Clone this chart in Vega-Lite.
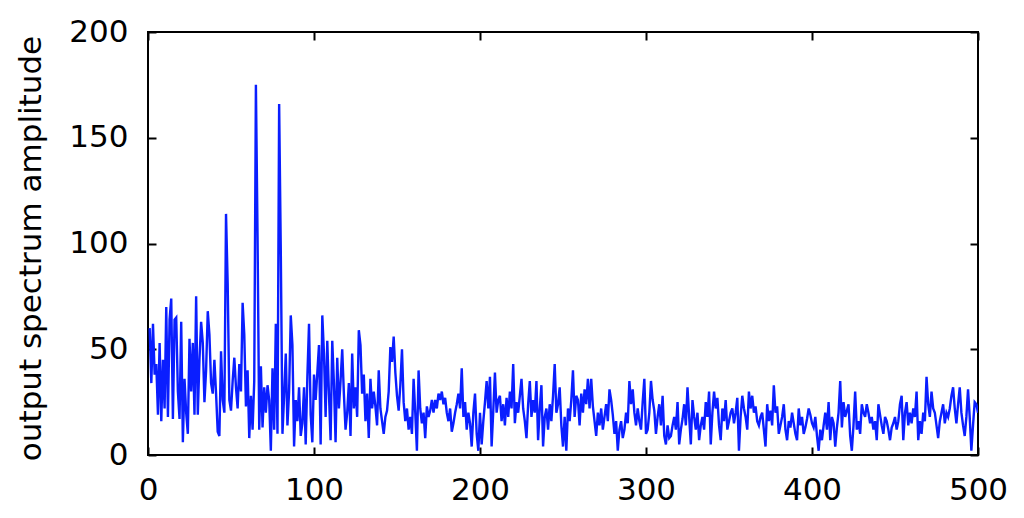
{
  "$schema": "https://vega.github.io/schema/vega-lite/v6.json",
  "autosize": {"type": "none"},
  "width": 830,
  "height": 423,
  "padding": {"left": 148, "top": 32, "right": 46, "bottom": 63},
  "background": "white",
  "data": {"values": [
{"n":1,"amp":60},{"n":2,"amp":34},{"n":3,"amp":62},{"n":4,"amp":38},{"n":5,"amp":43},{"n":6,"amp":19},{"n":7,"amp":53},{"n":8,"amp":16},{"n":9,"amp":45},{"n":10,"amp":22},
{"n":11,"amp":70},{"n":12,"amp":18},{"n":13,"amp":64},{"n":14,"amp":74},{"n":15,"amp":17},{"n":16,"amp":64},{"n":17,"amp":65},{"n":18,"amp":30},{"n":19,"amp":17},{"n":20,"amp":63},
{"n":21,"amp":6},{"n":22,"amp":36},{"n":23,"amp":20},{"n":24,"amp":10},{"n":25,"amp":55},{"n":26,"amp":30},{"n":27,"amp":53},{"n":28,"amp":19},{"n":29,"amp":75},{"n":30,"amp":19},
{"n":31,"amp":45},{"n":32,"amp":63},{"n":33,"amp":53},{"n":34,"amp":25},{"n":35,"amp":40},{"n":36,"amp":68},{"n":37,"amp":57},{"n":38,"amp":34},{"n":39,"amp":29},{"n":40,"amp":45},
{"n":41,"amp":29},{"n":42,"amp":11},{"n":43,"amp":9},{"n":44,"amp":49},{"n":45,"amp":26},{"n":46,"amp":20},{"n":47,"amp":114},{"n":48,"amp":81},{"n":49,"amp":26},{"n":50,"amp":21},
{"n":51,"amp":35},{"n":52,"amp":46},{"n":53,"amp":32},{"n":54,"amp":22},{"n":55,"amp":43},{"n":56,"amp":30},{"n":57,"amp":72},{"n":58,"amp":57},{"n":59,"amp":23},{"n":60,"amp":40},
{"n":61,"amp":8},{"n":62,"amp":28},{"n":63,"amp":12},{"n":64,"amp":35},{"n":65,"amp":175},{"n":66,"amp":103},{"n":67,"amp":12},{"n":68,"amp":42},{"n":69,"amp":13},{"n":70,"amp":32},
{"n":71,"amp":20},{"n":72,"amp":33},{"n":73,"amp":26},{"n":74,"amp":2},{"n":75,"amp":41},{"n":76,"amp":12},{"n":77,"amp":62},{"n":78,"amp":10},{"n":79,"amp":166},{"n":80,"amp":96},
{"n":81,"amp":10},{"n":82,"amp":28},{"n":83,"amp":48},{"n":84,"amp":14},{"n":85,"amp":30},{"n":86,"amp":66},{"n":87,"amp":52},{"n":88,"amp":4},{"n":89,"amp":26},{"n":90,"amp":16},
{"n":91,"amp":32},{"n":92,"amp":9},{"n":93,"amp":15},{"n":94,"amp":32},{"n":95,"amp":5},{"n":96,"amp":37},{"n":97,"amp":62},{"n":98,"amp":19},{"n":99,"amp":6},{"n":100,"amp":38},
{"n":101,"amp":26},{"n":102,"amp":39},{"n":103,"amp":52},{"n":104,"amp":5},{"n":105,"amp":66},{"n":106,"amp":48},{"n":107,"amp":18},{"n":108,"amp":54},{"n":109,"amp":29},{"n":110,"amp":7},
{"n":111,"amp":54},{"n":112,"amp":34},{"n":113,"amp":6},{"n":114,"amp":46},{"n":115,"amp":22},{"n":116,"amp":35},{"n":117,"amp":50},{"n":118,"amp":29},{"n":119,"amp":12},{"n":120,"amp":20},
{"n":121,"amp":34},{"n":122,"amp":9},{"n":123,"amp":48},{"n":124,"amp":22},{"n":125,"amp":32},{"n":126,"amp":18},{"n":127,"amp":59},{"n":128,"amp":52},{"n":129,"amp":29},{"n":130,"amp":38},
{"n":131,"amp":16},{"n":132,"amp":29},{"n":133,"amp":8},{"n":134,"amp":36},{"n":135,"amp":22},{"n":136,"amp":30},{"n":137,"amp":23},{"n":138,"amp":14},{"n":139,"amp":40},{"n":140,"amp":22},
{"n":141,"amp":16},{"n":142,"amp":10},{"n":143,"amp":18},{"n":144,"amp":21},{"n":145,"amp":30},{"n":146,"amp":51},{"n":147,"amp":44},{"n":148,"amp":56},{"n":149,"amp":39},{"n":150,"amp":28},
{"n":151,"amp":21},{"n":152,"amp":33},{"n":153,"amp":50},{"n":154,"amp":25},{"n":155,"amp":16},{"n":156,"amp":22},{"n":157,"amp":12},{"n":158,"amp":18},{"n":159,"amp":10},{"n":160,"amp":36},
{"n":161,"amp":20},{"n":162,"amp":2},{"n":163,"amp":40},{"n":164,"amp":22},{"n":165,"amp":15},{"n":166,"amp":20},{"n":167,"amp":8},{"n":168,"amp":23},{"n":169,"amp":18},{"n":170,"amp":21},
{"n":171,"amp":26},{"n":172,"amp":20},{"n":173,"amp":26},{"n":174,"amp":22},{"n":175,"amp":29},{"n":176,"amp":26},{"n":177,"amp":30},{"n":178,"amp":24},{"n":179,"amp":27},{"n":180,"amp":20},
{"n":181,"amp":16},{"n":182,"amp":22},{"n":183,"amp":11},{"n":184,"amp":15},{"n":185,"amp":20},{"n":186,"amp":24},{"n":187,"amp":29},{"n":188,"amp":22},{"n":189,"amp":41},{"n":190,"amp":18},
{"n":191,"amp":25},{"n":192,"amp":12},{"n":193,"amp":20},{"n":194,"amp":15},{"n":195,"amp":4},{"n":196,"amp":20},{"n":197,"amp":29},{"n":198,"amp":10},{"n":199,"amp":2},{"n":200,"amp":20},
{"n":201,"amp":5},{"n":202,"amp":16},{"n":203,"amp":25},{"n":204,"amp":35},{"n":205,"amp":22},{"n":206,"amp":37},{"n":207,"amp":4},{"n":208,"amp":21},{"n":209,"amp":39},{"n":210,"amp":20},
{"n":211,"amp":26},{"n":212,"amp":28},{"n":213,"amp":16},{"n":214,"amp":24},{"n":215,"amp":14},{"n":216,"amp":27},{"n":217,"amp":18},{"n":218,"amp":30},{"n":219,"amp":22},{"n":220,"amp":43},
{"n":221,"amp":15},{"n":222,"amp":25},{"n":223,"amp":20},{"n":224,"amp":28},{"n":225,"amp":36},{"n":226,"amp":22},{"n":227,"amp":16},{"n":228,"amp":8},{"n":229,"amp":24},{"n":230,"amp":35},
{"n":231,"amp":18},{"n":232,"amp":26},{"n":233,"amp":20},{"n":234,"amp":35},{"n":235,"amp":7},{"n":236,"amp":22},{"n":237,"amp":33},{"n":238,"amp":4},{"n":239,"amp":18},{"n":240,"amp":22},
{"n":241,"amp":12},{"n":242,"amp":24},{"n":243,"amp":16},{"n":244,"amp":28},{"n":245,"amp":43},{"n":246,"amp":20},{"n":247,"amp":24},{"n":248,"amp":32},{"n":249,"amp":14},{"n":250,"amp":4},
{"n":251,"amp":18},{"n":252,"amp":2},{"n":253,"amp":22},{"n":254,"amp":16},{"n":255,"amp":26},{"n":256,"amp":40},{"n":257,"amp":18},{"n":258,"amp":28},{"n":259,"amp":26},{"n":260,"amp":14},
{"n":261,"amp":29},{"n":262,"amp":20},{"n":263,"amp":31},{"n":264,"amp":24},{"n":265,"amp":36},{"n":266,"amp":22},{"n":267,"amp":36},{"n":268,"amp":23},{"n":269,"amp":16},{"n":270,"amp":9},
{"n":271,"amp":20},{"n":272,"amp":14},{"n":273,"amp":22},{"n":274,"amp":12},{"n":275,"amp":18},{"n":276,"amp":24},{"n":277,"amp":16},{"n":278,"amp":31},{"n":279,"amp":26},{"n":280,"amp":19},
{"n":281,"amp":10},{"n":282,"amp":16},{"n":283,"amp":2},{"n":284,"amp":12},{"n":285,"amp":16},{"n":286,"amp":8},{"n":287,"amp":12},{"n":288,"amp":20},{"n":289,"amp":15},{"n":290,"amp":35},
{"n":291,"amp":24},{"n":292,"amp":31},{"n":293,"amp":20},{"n":294,"amp":14},{"n":295,"amp":22},{"n":296,"amp":16},{"n":297,"amp":12},{"n":298,"amp":25},{"n":299,"amp":36},{"n":300,"amp":10},
{"n":301,"amp":12},{"n":302,"amp":20},{"n":303,"amp":35},{"n":304,"amp":26},{"n":305,"amp":21},{"n":306,"amp":10},{"n":307,"amp":18},{"n":308,"amp":24},{"n":309,"amp":14},{"n":310,"amp":28},
{"n":311,"amp":9},{"n":312,"amp":5},{"n":313,"amp":14},{"n":314,"amp":8},{"n":315,"amp":9},{"n":316,"amp":14},{"n":317,"amp":18},{"n":318,"amp":12},{"n":319,"amp":25},{"n":320,"amp":5},
{"n":321,"amp":12},{"n":322,"amp":17},{"n":323,"amp":24},{"n":324,"amp":14},{"n":325,"amp":32},{"n":326,"amp":18},{"n":327,"amp":5},{"n":328,"amp":26},{"n":329,"amp":18},{"n":330,"amp":12},
{"n":331,"amp":20},{"n":332,"amp":7},{"n":333,"amp":14},{"n":334,"amp":18},{"n":335,"amp":12},{"n":336,"amp":25},{"n":337,"amp":18},{"n":338,"amp":30},{"n":339,"amp":5},{"n":340,"amp":20},
{"n":341,"amp":30},{"n":342,"amp":22},{"n":343,"amp":27},{"n":344,"amp":14},{"n":345,"amp":7},{"n":346,"amp":22},{"n":347,"amp":16},{"n":348,"amp":26},{"n":349,"amp":12},{"n":350,"amp":16},
{"n":351,"amp":20},{"n":352,"amp":22},{"n":353,"amp":15},{"n":354,"amp":20},{"n":355,"amp":27},{"n":356,"amp":2},{"n":357,"amp":18},{"n":358,"amp":28},{"n":359,"amp":22},{"n":360,"amp":18},
{"n":361,"amp":12},{"n":362,"amp":30},{"n":363,"amp":22},{"n":364,"amp":28},{"n":365,"amp":20},{"n":366,"amp":23},{"n":367,"amp":16},{"n":368,"amp":14},{"n":369,"amp":18},{"n":370,"amp":20},
{"n":371,"amp":12},{"n":372,"amp":4},{"n":373,"amp":24},{"n":374,"amp":16},{"n":375,"amp":21},{"n":376,"amp":14},{"n":377,"amp":33},{"n":378,"amp":20},{"n":379,"amp":23},{"n":380,"amp":10},
{"n":381,"amp":14},{"n":382,"amp":18},{"n":383,"amp":24},{"n":384,"amp":12},{"n":385,"amp":7},{"n":386,"amp":16},{"n":387,"amp":13},{"n":388,"amp":20},{"n":389,"amp":15},{"n":390,"amp":10},
{"n":391,"amp":7},{"n":392,"amp":22},{"n":393,"amp":14},{"n":394,"amp":18},{"n":395,"amp":10},{"n":396,"amp":13},{"n":397,"amp":17},{"n":398,"amp":22},{"n":399,"amp":19},{"n":400,"amp":15},
{"n":401,"amp":13},{"n":402,"amp":18},{"n":403,"amp":9},{"n":404,"amp":2},{"n":405,"amp":12},{"n":406,"amp":7},{"n":407,"amp":14},{"n":408,"amp":20},{"n":409,"amp":12},{"n":410,"amp":25},
{"n":411,"amp":7},{"n":412,"amp":18},{"n":413,"amp":15},{"n":414,"amp":4},{"n":415,"amp":13},{"n":416,"amp":20},{"n":417,"amp":35},{"n":418,"amp":13},{"n":419,"amp":25},{"n":420,"amp":18},
{"n":421,"amp":21},{"n":422,"amp":24},{"n":423,"amp":9},{"n":424,"amp":2},{"n":425,"amp":14},{"n":426,"amp":30},{"n":427,"amp":12},{"n":428,"amp":16},{"n":429,"amp":10},{"n":430,"amp":24},
{"n":431,"amp":20},{"n":432,"amp":18},{"n":433,"amp":24},{"n":434,"amp":20},{"n":435,"amp":15},{"n":436,"amp":18},{"n":437,"amp":12},{"n":438,"amp":16},{"n":439,"amp":7},{"n":440,"amp":24},
{"n":441,"amp":19},{"n":442,"amp":14},{"n":443,"amp":10},{"n":444,"amp":18},{"n":445,"amp":16},{"n":446,"amp":12},{"n":447,"amp":7},{"n":448,"amp":13},{"n":449,"amp":15},{"n":450,"amp":18},
{"n":451,"amp":12},{"n":452,"amp":16},{"n":453,"amp":24},{"n":454,"amp":28},{"n":455,"amp":7},{"n":456,"amp":20},{"n":457,"amp":25},{"n":458,"amp":14},{"n":459,"amp":20},{"n":460,"amp":15},
{"n":461,"amp":22},{"n":462,"amp":18},{"n":463,"amp":30},{"n":464,"amp":7},{"n":465,"amp":16},{"n":466,"amp":10},{"n":467,"amp":20},{"n":468,"amp":16},{"n":469,"amp":37},{"n":470,"amp":24},
{"n":471,"amp":18},{"n":472,"amp":30},{"n":473,"amp":22},{"n":474,"amp":20},{"n":475,"amp":14},{"n":476,"amp":8},{"n":477,"amp":16},{"n":478,"amp":20},{"n":479,"amp":24},{"n":480,"amp":15},
{"n":481,"amp":20},{"n":482,"amp":18},{"n":483,"amp":22},{"n":484,"amp":28},{"n":485,"amp":32},{"n":486,"amp":22},{"n":487,"amp":15},{"n":488,"amp":24},{"n":489,"amp":32},{"n":490,"amp":20},
{"n":491,"amp":14},{"n":492,"amp":9},{"n":493,"amp":18},{"n":494,"amp":31},{"n":495,"amp":18},{"n":496,"amp":2},{"n":497,"amp":14},{"n":498,"amp":25},{"n":499,"amp":24},{"n":500,"amp":20}
  ]},
  "layer": [
    {
      "mark": {"type": "line", "color": "#0a1eff", "strokeWidth": 2.4, "clip": true},
      "encoding": {
        "x": {"field": "n", "type": "quantitative", "scale": {"domain": [0, 500], "nice": false},
              "axis": {"orient": "bottom", "values": [0, 100, 200, 300, 400, 500], "title": null, "labelPadding": 28, "labelFlush": false}},
        "y": {"field": "amp", "type": "quantitative", "scale": {"domain": [0, 200], "nice": false},
              "axis": {"orient": "left", "values": [0, 50, 100, 150, 200], "title": "output spectrum amplitude", "labelPadding": 28, "labelFlush": false,
                       "titleX": -117, "titleY": 216, "titleAngle": -90, "titleAlign": "center", "titleBaseline": "middle"}}
      }
    },
    {
      "mark": {"type": "line", "opacity": 0},
      "encoding": {
        "x": {"field": "n", "type": "quantitative", "scale": {"domain": [0, 500], "nice": false},
              "axis": {"orient": "top", "values": [0, 100, 200, 300, 400, 500], "title": null, "labels": false}},
        "y": {"field": "amp", "type": "quantitative", "scale": {"domain": [0, 200], "nice": false},
              "axis": {"orient": "right", "values": [0, 50, 100, 150, 200], "title": null, "labels": false}}
      }
    }
  ],
  "resolve": {"axis": {"x": "independent", "y": "independent"}},
  "config": {
    "view": {"stroke": "black", "strokeWidth": 2},
    "axis": {
      "domain": false, "grid": false, "ticks": true,
      "tickColor": "black", "tickWidth": 2, "tickSize": -8,
      "labelFont": "DejaVu Sans", "labelFontSize": 31, "labelColor": "black",
      "titleFont": "DejaVu Sans", "titleFontSize": 31, "titleColor": "black", "titleFontWeight": "normal"
    }
  }
}
